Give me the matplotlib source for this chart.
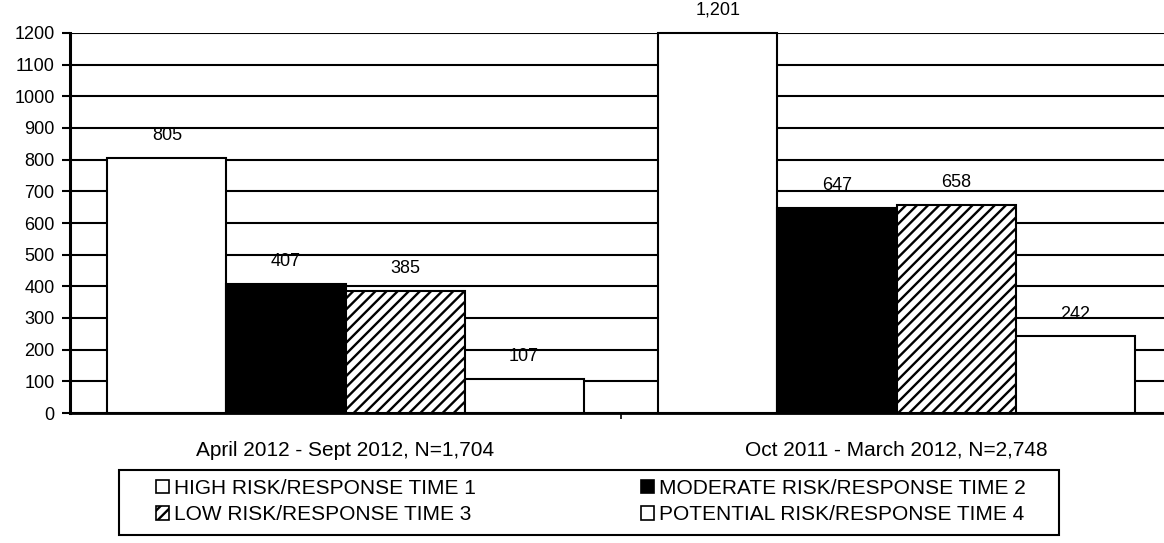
import matplotlib.pyplot as plt
from matplotlib.patches import Rectangle
import numpy as np

plt.rcParams['font.family'] = ['Liberation Sans', 'DejaVu Sans']
plt.rcParams['hatch.linewidth'] = 1.7

# data
periods = ['April 2012 - Sept 2012, N=1,704', 'Oct 2011 - March 2012, N=2,748']
series = ['HIGH RISK/RESPONSE TIME 1', 'MODERATE RISK/RESPONSE TIME 2',
          'LOW RISK/RESPONSE TIME 3', 'POTENTIAL RISK/RESPONSE TIME 4']
high = [805, 1201]
moderate = [407, 647]
low = [385, 658]
potential = [107, 242]
value_labels = [['805', '1,201'], ['407', '647'], ['385', '658'], ['107', '242']]

W, H = 1164, 543
fig = plt.figure(figsize=(W / 100, H / 100), dpi=100)
ax = fig.add_axes([70 / W, 130 / H, 1102 / W, 380 / H])

x = np.arange(len(periods))
width = 0.216
styles = [
    dict(color='white', hatch=None),
    dict(color='black', hatch=None),
    dict(color='white', hatch='///'),
    dict(color='white', hatch=None),
]
values = [high, moderate, low, potential]
handles = []
for i, (vals, st) in enumerate(zip(values, styles)):
    offs = (i - 1.5) * width
    bars = ax.bar(x + offs, vals, width, color=st['color'], hatch=st['hatch'],
                  edgecolor='black', linewidth=1.5, zorder=3, clip_on=False,
                  label=series[i])
    handles.append(bars)
    for b, txt in zip(bars, value_labels[i]):
        ax.annotate(txt, (b.get_x() + b.get_width() / 2, b.get_height()),
                    xytext=(0, 16), textcoords='offset points',
                    ha='center', va='center', fontsize=13, zorder=4)

ax.set_xlim(-0.5, 1.5)
ax.set_ylim(0, 1200)
ax.set_yticks(np.arange(0, 1201, 100))
ax.tick_params(axis='y', labelsize=13, length=6, width=1.5, pad=5, direction='out')
ax.yaxis.grid(True, color='black', linewidth=1.5, zorder=0)
ax.set_axisbelow(True)

ax.set_xticks([0.5])
ax.set_xticklabels([''])
ax.tick_params(axis='x', length=4, width=1.2, direction='out')
for xi, name in zip(x, periods):
    ax.text(xi, -37 / 380, name, transform=ax.get_xaxis_transform(),
            ha='center', va='center', fontsize=15)

for s in ['top', 'right']:
    ax.spines[s].set_visible(False)
ax.spines['left'].set_linewidth(2.2)
ax.spines['bottom'].set_linewidth(2.0)

# legend: frame drawn by hand, two columns placed separately
fig.patches.append(Rectangle((119 / W, 8 / H), 940 / W, 65 / H, transform=fig.transFigure,
                             fill=False, edgecolor='black', linewidth=1.5))
cols = [(0, 2, 156), (1, 3, 641)]
for a, b, xpix in cols:
    leg = fig.legend([handles[a], handles[b]], [series[a], series[b]],
                     loc='upper left', bbox_to_anchor=(xpix / W, 1 - 479 / H),
                     fontsize=15, frameon=False, handlelength=0.6,
                     handleheight=0.6, handletextpad=0.25, labelspacing=0.35,
                     borderpad=0, borderaxespad=0)
    for h in leg.legend_handles:
        h.set_linewidth(1.2)

fig.savefig('out.png', dpi=100)
